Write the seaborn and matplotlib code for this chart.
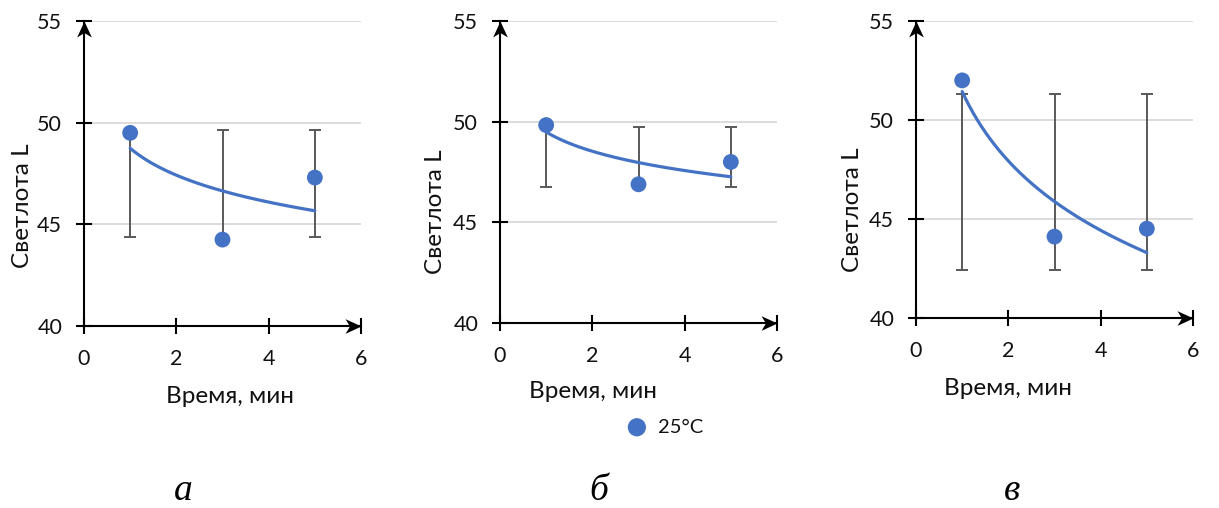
import numpy as np
import pandas as pd
import matplotlib
matplotlib.use("Agg")
import matplotlib.pyplot as plt
from matplotlib.path import Path
import seaborn as sns

# Lightness L measured after 1, 3 and 5 minutes
time_min = [1, 3, 5]
lightness_a = [49.5, 44.25, 47.3]
lightness_b = [49.83, 46.89, 48.0]
lightness_c = [52.0, 44.11, 44.51]
panel_letters = ["а", "б", "в"]
legend_label = "25°C"
x_label = "Время, мин"
y_label = "Светлота L"
x_ticks = [0, 2, 4, 6]
y_ticks = [40, 45, 50, 55]

BLUE = "#4472C4"
ERR_GRAY = "#595959"
GRID = "#D9D9D9"
TEXT = "#111111"

sns.set_theme(style="white")
plt.rcParams["font.family"] = ["Lato", "DejaVu Sans"]

# stealth-style arrow heads (tip at the origin)
HEAD_UP = Path([(0, 0), (-0.46, -1), (0, -0.72), (0.46, -1), (0, 0)],
               [Path.MOVETO, Path.LINETO, Path.LINETO, Path.LINETO, Path.CLOSEPOLY])
HEAD_RIGHT = Path([(0, 0), (-1, 0.46), (-0.72, 0), (-1, -0.46), (0, 0)],
                  [Path.MOVETO, Path.LINETO, Path.LINETO, Path.LINETO, Path.CLOSEPOLY])

W, H = 1219, 508
fig = plt.figure(figsize=(W / 100, H / 100), dpi=100)

# axes boxes in pixels: left, right, top, bottom
boxes = [(84, 361, 21, 326), (500, 777, 21, 323), (916, 1193, 21, 318)]
ylabel_xy = [(-0.222, 0.393), (-0.233, 0.368), (-0.229, 0.364)]
xlabel_xy = [(0.527, -0.23), (0.336, -0.228), (0.332, -0.236)]
letter_x = [183, 599, 1012]

series = [lightness_a, lightness_b, lightness_c]
scatter_handle = None
for i, (vals, box) in enumerate(zip(series, boxes)):
    l, r, t, b = box
    ax = fig.add_axes([l / W, (H - b) / H, (r - l) / W, (b - t) / H])
    df = pd.DataFrame({"t": time_min, "L": vals})

    # spread of the three measurements around their mean
    mean = df["L"].mean()
    sd = df["L"].std(ddof=1)
    ax.errorbar(df["t"], [mean] * len(df), yerr=sd, fmt="none",
                ecolor=ERR_GRAY, elinewidth=1.4, capsize=4.5, capthick=1.4,
                zorder=2)

    # logarithmic trend line
    k, c0 = np.polyfit(np.log(df["t"]), df["L"], 1)
    tt = np.linspace(min(time_min), max(time_min), 200)
    sns.lineplot(x=tt, y=k * np.log(tt) + c0, ax=ax, color=BLUE,
                 linewidth=2.3, zorder=3)

    sns.scatterplot(data=df, x="t", y="L", ax=ax, color=BLUE, s=130,
                    edgecolor="none", linewidth=0, zorder=4,
                    label=legend_label, clip_on=False)
    if i == 1:
        scatter_handle = ax.collections[-1]
    if ax.get_legend() is not None:
        ax.get_legend().remove()

    ax.set_xlim(0, 6)
    ax.set_ylim(40, 55)
    ax.set_xticks(x_ticks)
    ax.set_yticks(y_ticks)
    ax.yaxis.grid(True, color=GRID, linewidth=1.3)
    ax.xaxis.grid(False)
    ax.set_axisbelow(True)
    for side in ("top", "right"):
        ax.spines[side].set_visible(False)
    for side in ("left", "bottom"):
        ax.spines[side].set_color("black")
        ax.spines[side].set_linewidth(1.5)
        ax.spines[side].set_zorder(5)
    ax.tick_params(axis="both", direction="inout", length=11.5, width=1.5,
                   color="black", labelsize=15.5, labelcolor=TEXT,
                   bottom=True, left=True)
    ax.tick_params(axis="y", pad=10)
    ax.tick_params(axis="x", pad=11)

    # arrow heads at the ends of both axes
    ax.plot([0], [1], marker=HEAD_UP, markersize=23, color="black",
            markeredgewidth=0, transform=ax.transAxes, clip_on=False, zorder=6)
    ax.plot([1], [0], marker=HEAD_RIGHT, markersize=23, color="black",
            markeredgewidth=0, transform=ax.transAxes, clip_on=False, zorder=6)

    ax.set_xlabel(x_label, fontsize=17.5, color=TEXT)
    ax.set_ylabel(y_label, fontsize=17.5, color=TEXT)
    ax.xaxis.set_label_coords(*xlabel_xy[i])
    ax.yaxis.set_label_coords(*ylabel_xy[i])
    ax.xaxis.label.set_va("center")
    ax.yaxis.label.set_va("center")

    fig.text(letter_x[i] / W, (H - 491) / H, panel_letters[i],
             family="Liberation Serif", style="italic", fontsize=27,
             ha="center", va="center", color="black")

fig.legend([scatter_handle], [legend_label], loc="center",
           bbox_to_anchor=(660 / W, (H - 427) / H), frameon=False,
           fontsize=14.5, handletextpad=0.05, markerscale=1.15,
           borderpad=0, labelcolor=TEXT)

fig.savefig("out.png", dpi=100)
